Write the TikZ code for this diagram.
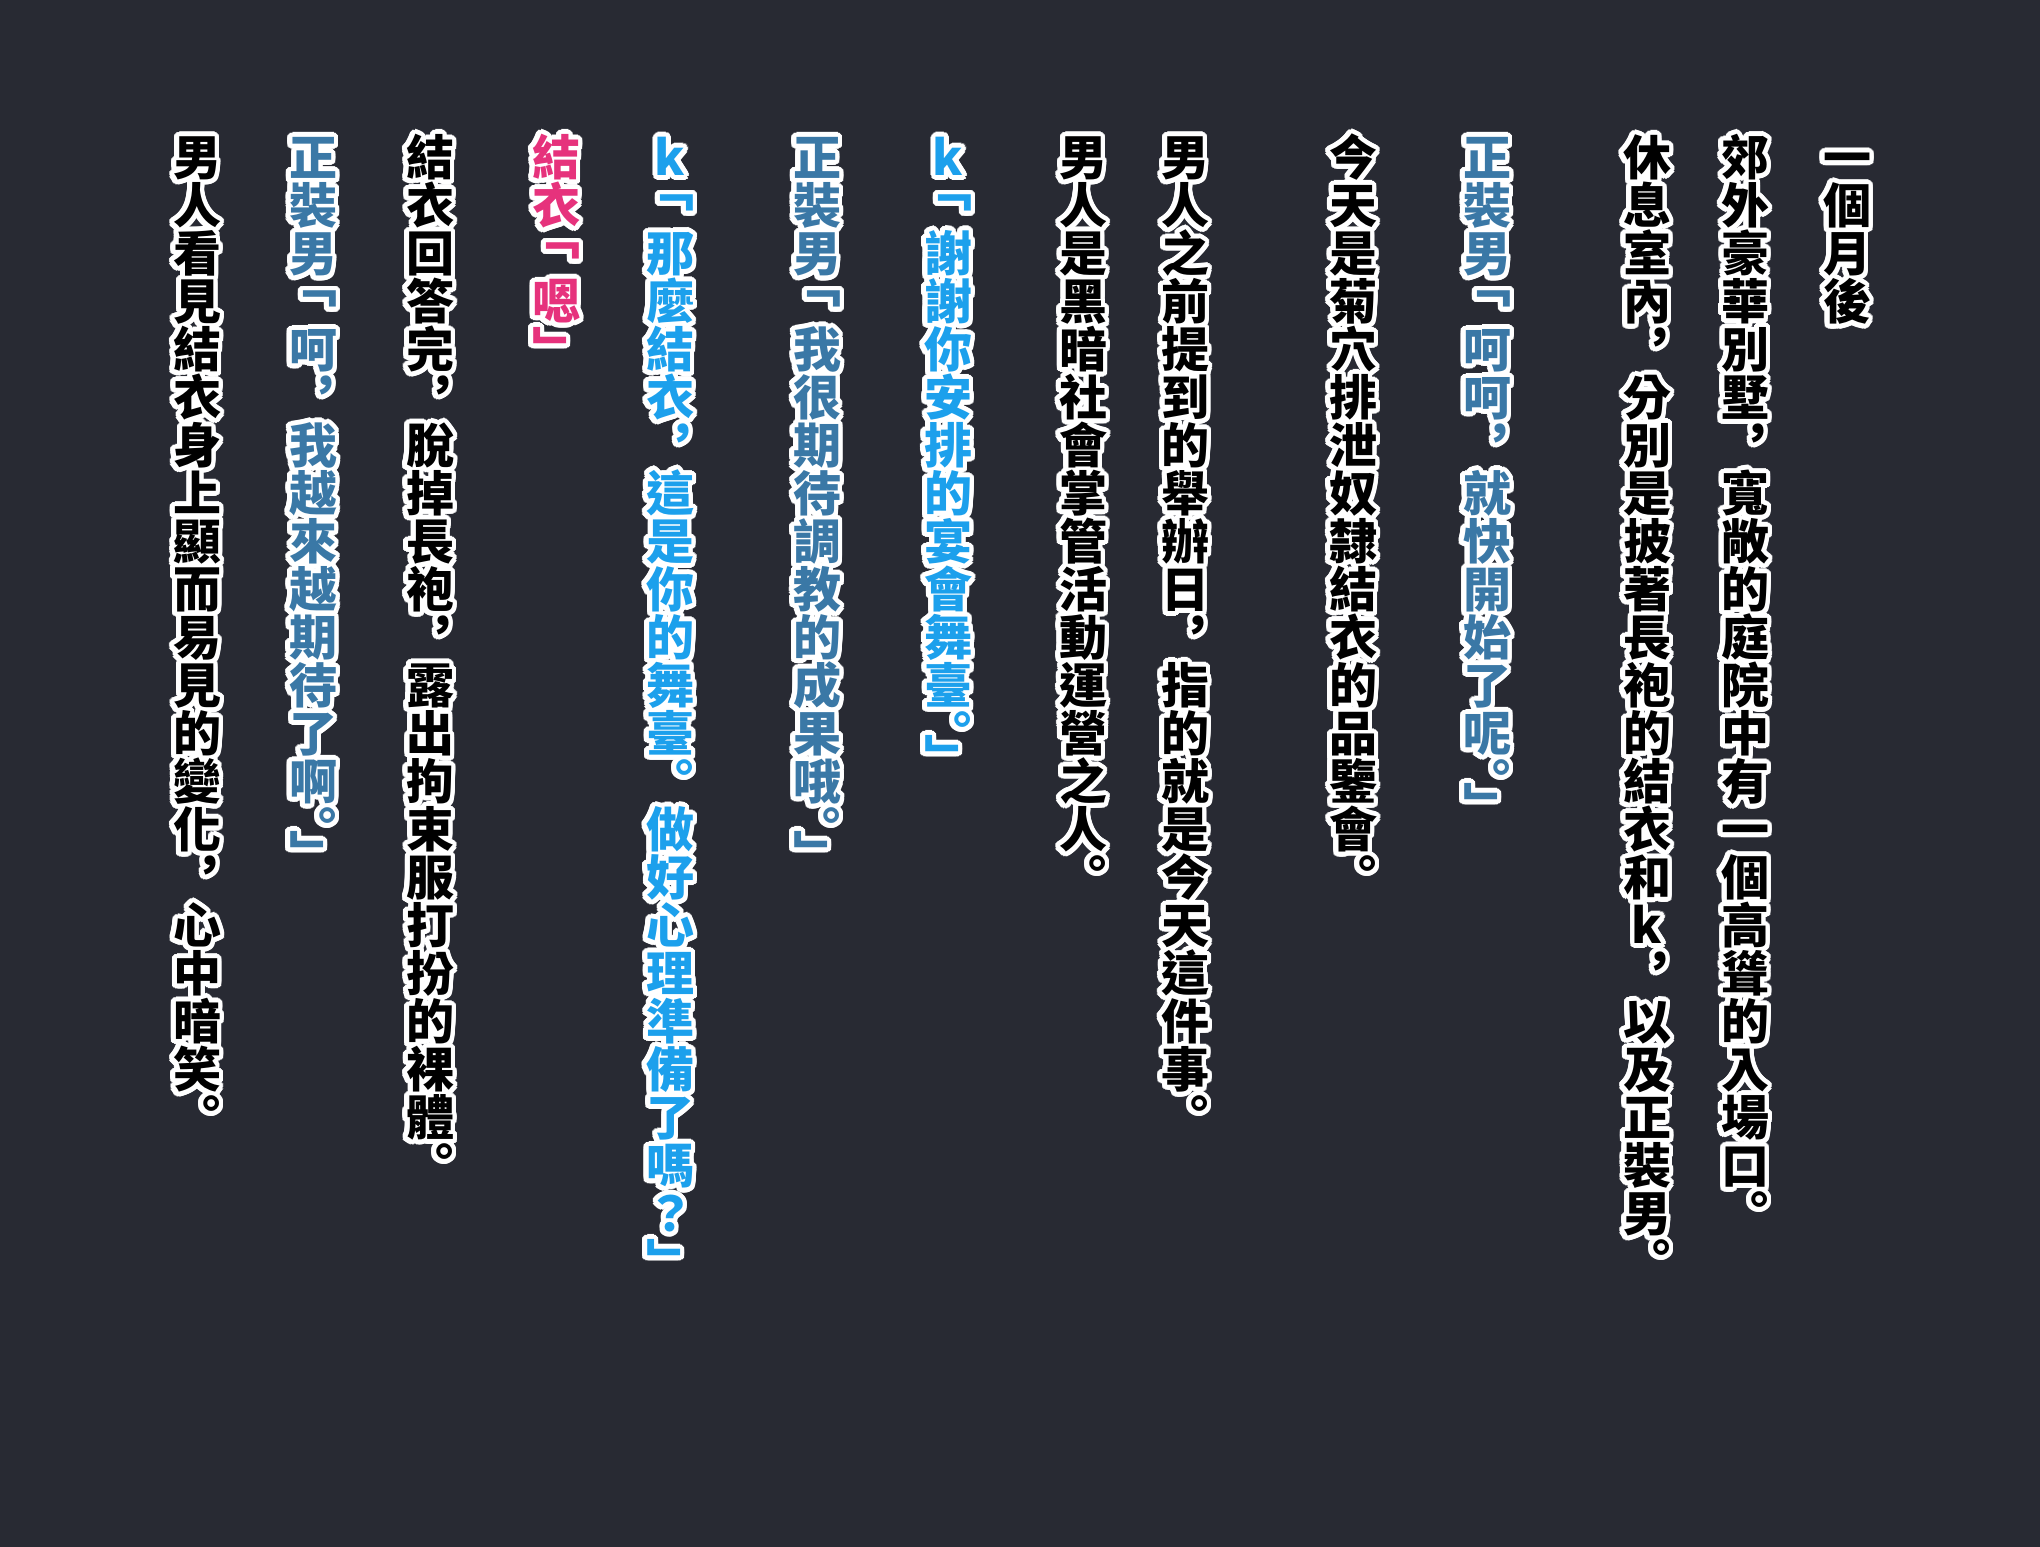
\documentclass[tikz,border=0pt]{standalone}
\usepackage{fontspec}
\usepackage{tikz}
\newfontfamily\cjk{Noto Sans CJK TC}
\definecolor{bgdark}{HTML}{282A33}
\definecolor{suitblue}{HTML}{3A78A6}
\definecolor{kblue}{HTML}{1CA0EC}
\definecolor{yuipink}{HTML}{E6327C}
% full stop squeezed before a closing bracket
\newcommand\sq{︒}
\def\sqtoken{\sq}
% opening bracket set a little higher in its cell
\newcommand\ob{\raisebox{.35em}{﹁}}
\makeatletter
\newcommand\vcol[1]{\vbox{\offinterlineskip
  \@tfor\vch:=#1\do{\hbox to 1em{\vrule height .88em depth .12em width 0pt\hss\vch\hss}%
    \ifx\vch\sqtoken\kern-.5em\fi}}}
\makeatother
% white halo copies, then the coloured column on top
\newcommand\colnode[4]{%
  \foreach \a in {0,15,...,345}
    \node [col, text = white] at ([shift={(\a:2.4pt)}] #3, 133){\vcol{#4}};
  \node [#1] (#2) at (#3, 133){\vcol{#4}};}

\begin{document}
\begin{tikzpicture}[x = 0.5pt, y = -0.5pt,
                      col/.style = {anchor = north, inner sep = 0pt,
                                    font = \cjk\bfseries\fontsize{24}{24}\selectfont},
                      narr/.style = {col, text = black},
                      suit/.style = {col, text = suitblue},
                      kline/.style = {col, text = kblue},
                      yui/.style = {col, text = yuipink}]
    \fill [bgdark] (0, 0) rectangle (2040, 1547);

    \colnode{narr}{l1}{1847}{一個月後}
    \colnode{narr}{l2}{1745}{郊外豪華別墅︐寬敞的庭院中有一個高聳的入場口︒}
    \colnode{narr}{l3}{1647}{休息室內︐分別是披著長袍的結衣和k︐以及正裝男︒}
    \colnode{suit}{l4}{1487}{正裝男\ob 呵呵︐就快開始了呢\sq﹂}

    \colnode{narr}{l5}{1353}{今天是菊穴排泄奴隸結衣的品鑒會︒}
    \colnode{narr}{l6}{1185}{男人之前提到的舉辦日︐指的就是今天這件事︒}
    \colnode{narr}{l7}{1083}{男人是黑暗社會掌管活動運營之人︒}

    \colnode{kline}{l8}{948}{k\ob 謝謝你安排的宴會舞臺\sq﹂}
    \colnode{suit}{l9}{817}{正裝男\ob 我很期待調教的成果哦\sq﹂}
    \colnode{kline}{l10}{670}{k\ob 那麼結衣︐這是你的舞臺︒做好心理準備了嗎？﹂}
    \colnode{yui}{l11}{556}{結衣\ob 嗯﹂}

    \colnode{narr}{l12}{430}{結衣回答完︐脫掉長袍︐露出拘束服打扮的裸體︒}
    \colnode{suit}{l13}{313}{正裝男\ob 呵︐我越來越期待了啊\sq﹂}
    \colnode{narr}{l14}{197}{男人看見結衣身上顯而易見的變化︐心中暗笑︒}
    \end{tikzpicture}
\end{document}
